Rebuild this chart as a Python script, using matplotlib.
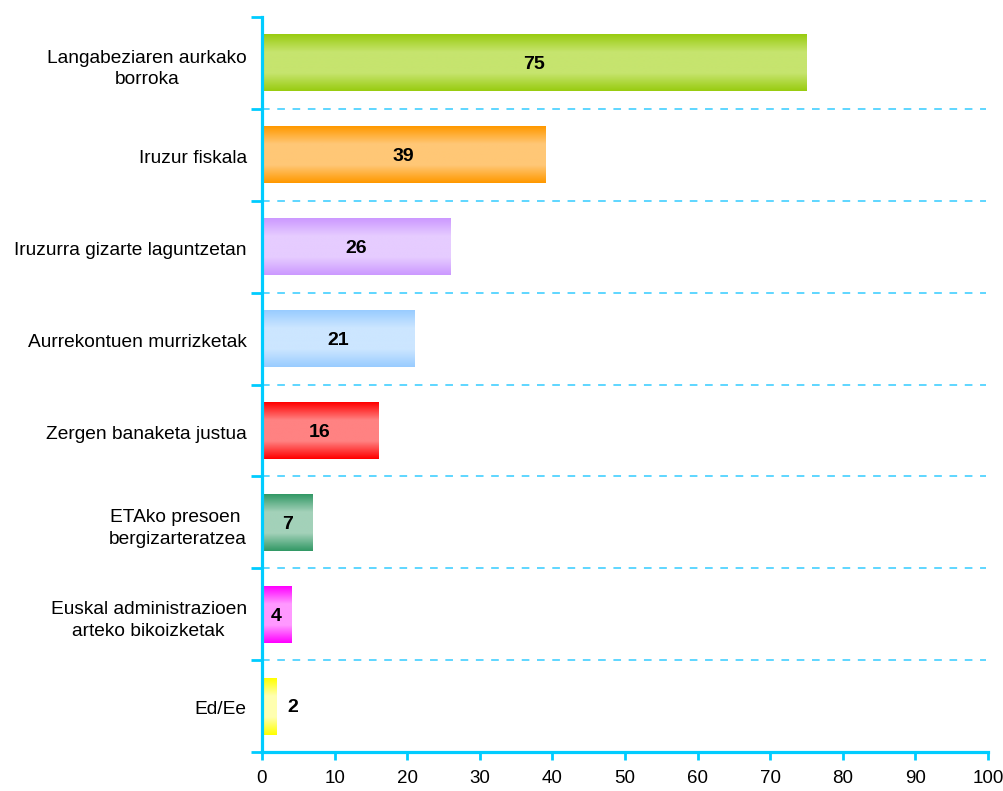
import numpy as np
import matplotlib
matplotlib.use("Agg")
import matplotlib.pyplot as plt
from matplotlib.colors import LinearSegmentedColormap

categories = [
    "Langabeziaren aurkako\nborroka",
    "Iruzur fiskala",
    "Iruzurra gizarte laguntzetan",
    "Aurrekontuen murrizketak",
    "Zergen banaketa justua",
    "ETAko presoen \nbergizarteratzea",
    "Euskal administrazioen\narteko bikoizketak",
    "Ed/Ee",
]
values = [75, 39, 26, 21, 16, 7, 4, 2]
edge_colors = ["#99CC11", "#FF9900", "#CC99FF", "#99CCFF", "#FF0000", "#339966", "#FF00FF", "#FFFF00"]
mid_colors = ["#C6E46E", "#FFC776", "#E6CCFF", "#CCE6FF", "#FF8282", "#A3D1B9", "#FF99FF", "#FFFFB0"]
xticks = [0, 10, 20, 30, 40, 50, 60, 70, 80, 90, 100]

plt.rcParams['font.family'] = ['Liberation Sans', 'DejaVu Sans']
fig = plt.figure(figsize=(10.04, 7.91), dpi=100)
ax = fig.add_axes([262/1004, 39/791, (988-262)/1004, (752-17)/791])

axis_color = "#00CCFF"
bar_h = 0.62
grad = np.linspace(0, 1, 64)
prof = 1 - np.abs(grad - 0.5) * 2  # 0 at edges, 1 at middle
prof = np.clip(prof * 1.6, 0, 1)
for i, (v, ec, mc) in enumerate(zip(values, edge_colors, mid_colors)):
    cmap = LinearSegmentedColormap.from_list("g%d" % i, [ec, mc])
    img = prof.reshape(-1, 1)
    ax.imshow(img, cmap=cmap, vmin=0, vmax=1, aspect='auto', interpolation='bilinear',
              extent=[0, v, i + bar_h / 2, i - bar_h / 2], zorder=2)
    if v >= 4:
        ax.text(v / 2, i + 0.02, str(v), ha='center', va='center', fontsize=14, fontweight='bold', zorder=3)
    else:
        ax.text(v + 2.3, i + 0.02, str(v), ha='center', va='center', fontsize=14, fontweight='bold', zorder=3)

n = len(categories)
for b in range(1, n):
    ax.axhline(b - 0.5, color="#33CCFF", lw=1.1, ls=(0, (5, 5)), zorder=1, xmax=0.997)

ax.set_xlim(0, 100)
ax.set_ylim(n - 0.5, -0.5)
ax.set_xticks(xticks)
ax.set_xticklabels([str(t) for t in xticks], fontsize=13.5)
ax.set_yticks(np.arange(n) + 0.02)
ax.set_yticklabels(categories, fontsize=13.8, multialignment='center', linespacing=1.35)
ax.tick_params(axis='y', which='major', length=0, pad=11)
ax.set_yticks(np.arange(-0.5, n, 1.0), minor=True)
ax.tick_params(axis='y', which='minor', length=8, width=2, color=axis_color, direction='out')
ax.tick_params(axis='x', length=6, width=2, color=axis_color, direction='out', pad=7)

for s in ['top', 'right']:
    ax.spines[s].set_visible(False)
for s in ['left', 'bottom']:
    ax.spines[s].set_color(axis_color)
    ax.spines[s].set_linewidth(2.3)

fig.savefig("out.png", dpi=100)
